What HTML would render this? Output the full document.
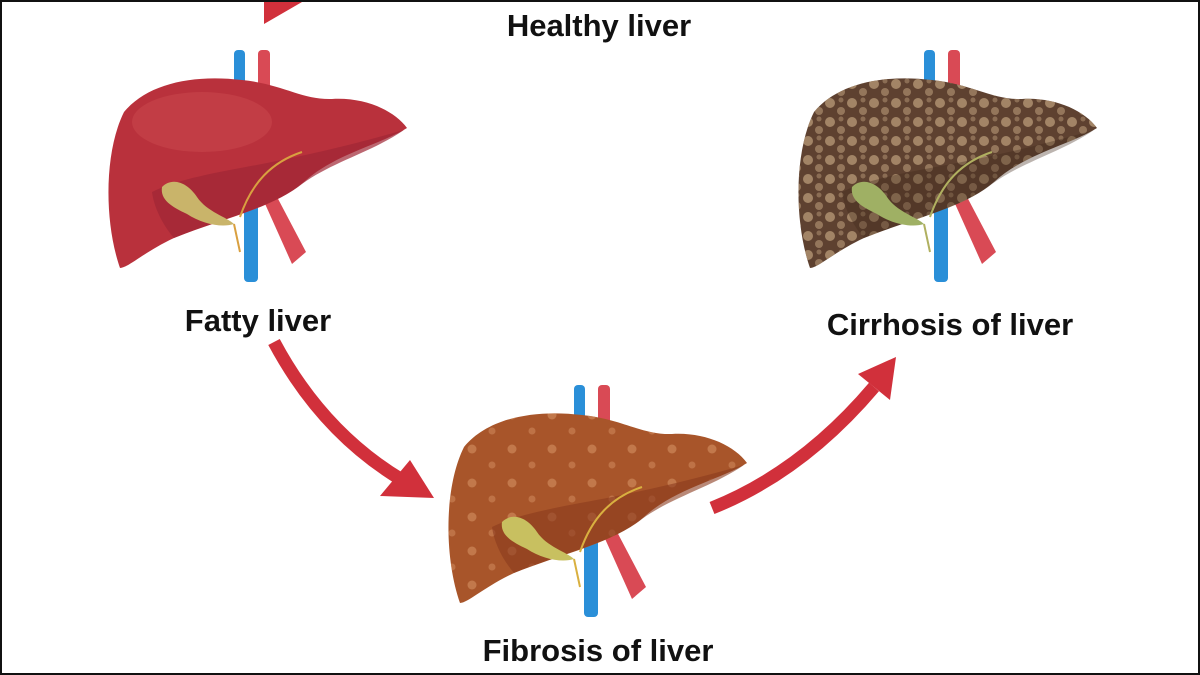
<!DOCTYPE html>
<html><head><meta charset="utf-8"><style>
html,body{margin:0;padding:0;background:#fff}
#c{width:1200px;height:675px;position:relative;overflow:hidden;background:#fff;box-sizing:border-box;border:2px solid #111}
svg{position:absolute;left:0;top:0}
</style></head><body><div id="c">
<svg width="1200" height="675" viewBox="0 0 1200 675" xmlns="http://www.w3.org/2000/svg">
<defs>
<pattern id="sp" width="22" height="19" patternUnits="userSpaceOnUse"><circle cx="6" cy="6" r="5" fill="#b89a78" opacity="0.75"/><circle cx="17" cy="14" r="4" fill="#b89a78" opacity="0.6"/><circle cx="17" cy="3" r="2.5" fill="#b89a78" opacity="0.5"/></pattern>
<pattern id="sp2" width="40" height="34" patternUnits="userSpaceOnUse"><circle cx="10" cy="10" r="4.5" fill="#d08a5c" opacity="0.65"/><circle cx="30" cy="26" r="3.5" fill="#d08a5c" opacity="0.55"/></pattern>
<g id="vessels">
<rect x="232" y="48" width="11" height="50" rx="4" fill="#2a8fd8"/>
<rect x="256" y="48" width="12" height="45" rx="4" fill="#d94a55"/>
<path d="M260,195 L274,193 L304,250 L290,262 Z" fill="#d94a55"/>
<rect x="242" y="190" width="14" height="90" rx="4" fill="#2a8fd8"/>
</g>
<path id="shape" d="M118,266 C102,220 102,150 122,110 C145,82 190,72 240,78 C280,82 300,98 330,97 C362,95 392,108 405,126 C380,142 332,152 302,180 C272,206 222,216 172,236 C142,250 126,266 118,266 Z"/>
<path id="lobe" d="M150,190 C180,175 230,168 270,160 C320,150 360,140 402,128 C370,150 330,160 300,182 C270,206 220,216 172,236 C160,222 152,205 150,190 Z"/>
<path id="gb" d="M160,185 C170,175 185,180 195,195 C205,210 225,215 232,222 C220,226 200,222 185,212 C170,205 158,198 160,185 Z"/>
</defs>

<path d="M262,0 L300,0 L262,22 Z" fill="#d1303b"/>
<path d="M272,340 Q320,430 400,478" stroke="#d1303b" stroke-width="13" fill="none"/>
<path d="M432,496 L378,494 L408,458 Z" fill="#d1303b"/>
<path d="M710,506 Q800,470 872,385" stroke="#d1303b" stroke-width="13" fill="none"/>
<path d="M894,355 L856,372 L888,398 Z" fill="#d1303b"/>

<g>
<use href="#vessels"/>
<use href="#shape" fill="#b9313c"/>
<ellipse cx="200" cy="120" rx="70" ry="30" fill="#cc4a4e" opacity="0.5"/>
<use href="#lobe" fill="#a02634" opacity="0.7"/>
<use href="#gb" fill="#c9b46a"/>
<path d="M232,222 L238,250 M238,215 C250,180 270,160 300,150" stroke="#d9a040" stroke-width="2" fill="none"/>
</g>

<g transform="translate(690,0)">
<use href="#vessels"/>
<use href="#shape" fill="#5e4130"/>
<use href="#shape" fill="url(#sp)"/>
<use href="#lobe" fill="#3e281a" opacity="0.35"/>
<use href="#gb" fill="#9fb064"/>
<path d="M232,222 L238,250 M238,215 C250,180 270,160 300,150" stroke="#b0b060" stroke-width="2" fill="none"/>
</g>

<g transform="translate(340,335)">
<use href="#vessels"/>
<use href="#shape" fill="#a8552a"/>
<use href="#shape" fill="url(#sp2)"/>
<use href="#lobe" fill="#8a3a1e" opacity="0.6"/>
<use href="#gb" fill="#c8c060"/>
<path d="M232,222 L238,250 M238,215 C250,180 270,160 300,150" stroke="#d9b040" stroke-width="2" fill="none"/>
</g>

<g font-family="Liberation Sans, sans-serif" font-weight="bold" font-size="31" fill="#111" text-anchor="middle">
<text x="597" y="34">Healthy liver</text>
<text x="256" y="329">Fatty liver</text>
<text x="948" y="333">Cirrhosis of liver</text>
<text x="596" y="659">Fibrosis of liver</text>
</g>
</svg>
</div></body></html>
